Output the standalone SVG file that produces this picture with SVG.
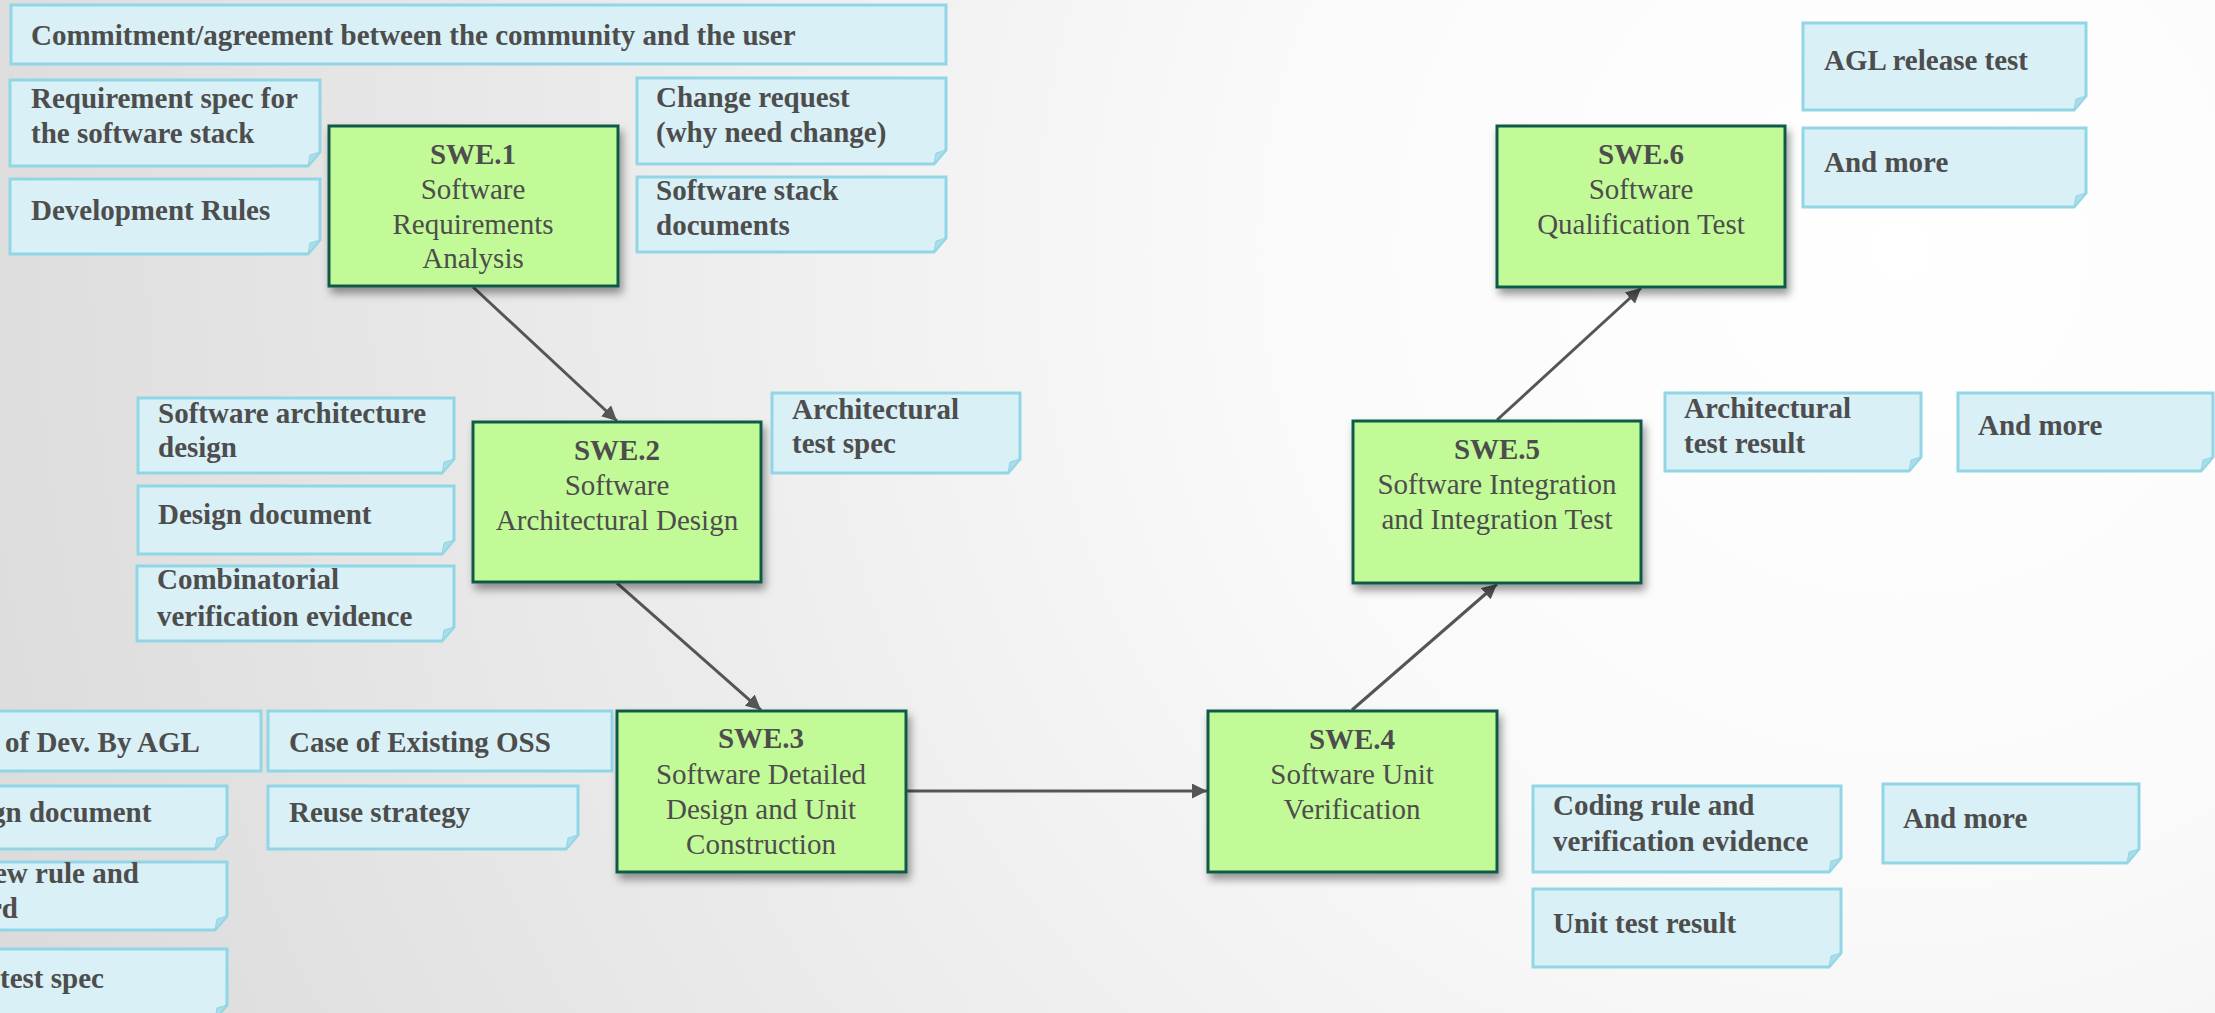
<svg xmlns="http://www.w3.org/2000/svg" width="2215" height="1013" viewBox="0 0 2215 1013">
<defs>
<radialGradient id="bg" cx="1900" cy="250" r="2100" gradientUnits="userSpaceOnUse">
<stop offset="0" stop-color="#ffffff"/>
<stop offset="0.3" stop-color="#fafafa"/>
<stop offset="1" stop-color="#d9d9d9"/>
</radialGradient>
<filter id="sh" x="-10%" y="-10%" width="130%" height="140%">
<feDropShadow dx="3" dy="6" stdDeviation="4" flood-color="#000" flood-opacity="0.4"/>
</filter>
<marker id="arr" viewBox="0 0 10 10" refX="10" refY="5" markerWidth="5" markerHeight="5" orient="auto" markerUnits="strokeWidth">
<path d="M0,0 L10,5 L0,10 Z" fill="#555555"/>
</marker>
</defs>
<style>
.box{fill:#c3fa98;stroke:#0e5a4a;stroke-width:3}
.note{fill:#d9f0f6;stroke:#92d6e5;stroke-width:3}
.fold{fill:#a9dde9;stroke:#92d6e5;stroke-width:1}
.t{font-family:"Liberation Serif","Times New Roman",serif;font-size:29px;fill:#4d4d4d}
.nt{font-family:"Liberation Serif","Times New Roman",serif;font-size:29px;font-weight:bold;fill:#4d4d4d}
.b{font-weight:bold}
.c{stroke:#555555;stroke-width:3;fill:none}
</style>
<rect x="0" y="0" width="2215" height="1013" fill="url(#bg)"/>

<g id="connectors">
<line class="c" x1="473" y1="287" x2="617" y2="421" marker-end="url(#arr)"/>
<line class="c" x1="617" y1="583" x2="761" y2="710" marker-end="url(#arr)"/>
<line class="c" x1="907" y1="791" x2="1207" y2="791" marker-end="url(#arr)"/>
<line class="c" x1="1352" y1="710" x2="1497" y2="584" marker-end="url(#arr)"/>
<line class="c" x1="1497" y1="420" x2="1641" y2="288" marker-end="url(#arr)"/>
</g>

<g id="swe1">
<rect class="box" filter="url(#sh)" x="329" y="126" width="289" height="160"/>
<text class="t" text-anchor="middle"><tspan class="b" x="473" y="164">SWE.1</tspan><tspan x="473" y="199">Software</tspan><tspan x="473" y="234">Requirements</tspan><tspan x="473" y="268">Analysis</tspan></text>
</g>
<g id="swe2">
<rect class="box" filter="url(#sh)" x="473" y="422" width="288" height="160"/>
<text class="t" text-anchor="middle"><tspan class="b" x="617" y="460">SWE.2</tspan><tspan x="617" y="495">Software</tspan><tspan x="617" y="530">Architectural Design</tspan></text>
</g>
<g id="swe3">
<rect class="box" filter="url(#sh)" x="617" y="711" width="289" height="161"/>
<text class="t" text-anchor="middle"><tspan class="b" x="761" y="748">SWE.3</tspan><tspan x="761" y="784">Software Detailed</tspan><tspan x="761" y="819">Design and Unit</tspan><tspan x="761" y="854">Construction</tspan></text>
</g>
<g id="swe4">
<rect class="box" filter="url(#sh)" x="1208" y="711" width="289" height="161"/>
<text class="t" text-anchor="middle"><tspan class="b" x="1352" y="749">SWE.4</tspan><tspan x="1352" y="784">Software Unit</tspan><tspan x="1352" y="819">Verification</tspan></text>
</g>
<g id="swe5">
<rect class="box" filter="url(#sh)" x="1353" y="421" width="288" height="162"/>
<text class="t" text-anchor="middle"><tspan class="b" x="1497" y="459">SWE.5</tspan><tspan x="1497" y="494">Software Integration</tspan><tspan x="1497" y="529">and Integration Test</tspan></text>
</g>
<g id="swe6">
<rect class="box" filter="url(#sh)" x="1497" y="126" width="288" height="161"/>
<text class="t" text-anchor="middle"><tspan class="b" x="1641" y="164">SWE.6</tspan><tspan x="1641" y="199">Software</tspan><tspan x="1641" y="234">Qualification Test</tspan></text>
</g>

<g id="n-commitment">
<rect class="note" x="11" y="5" width="935" height="59"/>
<text class="nt" x="31" y="45">Commitment/agreement between the community and the user</text>
</g>
<g id="n-reqspec">
<path class="note" d="M10,80 H320 V152 L308,166 H10 Z"/>
<path class="fold" d="M320,152 L308,166 L310,155 Z"/>
<text class="nt"><tspan x="31" y="108">Requirement spec for</tspan><tspan x="31" y="143">the software stack</tspan></text>
</g>
<g id="n-devrules">
<path class="note" d="M10,179 H320 V240 L308,254 H10 Z"/>
<path class="fold" d="M320,240 L308,254 L310,243 Z"/>
<text class="nt" x="31" y="220">Development Rules</text>
</g>
<g id="n-change">
<path class="note" d="M637,78 H946 V150 L934,164 H637 Z"/>
<path class="fold" d="M946,150 L934,164 L936,153 Z"/>
<text class="nt"><tspan x="656" y="107">Change request</tspan><tspan x="656" y="142">(why need change)</tspan></text>
</g>
<g id="n-stackdocs">
<path class="note" d="M637,177 H946 V238 L934,252 H637 Z"/>
<path class="fold" d="M946,238 L934,252 L936,241 Z"/>
<text class="nt"><tspan x="656" y="200">Software stack</tspan><tspan x="656" y="235">documents</tspan></text>
</g>
<g id="n-archdesign">
<path class="note" d="M138,398 H454 V459 L442,473 H138 Z"/>
<path class="fold" d="M454,459 L442,473 L444,462 Z"/>
<text class="nt"><tspan x="158" y="423">Software architecture</tspan><tspan x="158" y="457">design</tspan></text>
</g>
<g id="n-designdoc">
<path class="note" d="M138,486 H454 V540 L442,554 H138 Z"/>
<path class="fold" d="M454,540 L442,554 L444,543 Z"/>
<text class="nt" x="158" y="524">Design document</text>
</g>
<g id="n-combinatorial">
<path class="note" d="M137,566 H454 V627 L442,641 H137 Z"/>
<path class="fold" d="M454,627 L442,641 L444,630 Z"/>
<text class="nt"><tspan x="157" y="589">Combinatorial</tspan><tspan x="157" y="626">verification evidence</tspan></text>
</g>
<g id="n-archtestspec">
<path class="note" d="M772,393 H1020 V459 L1008,473 H772 Z"/>
<path class="fold" d="M1020,459 L1008,473 L1010,462 Z"/>
<text class="nt"><tspan x="792" y="419">Architectural</tspan><tspan x="792" y="453">test spec</tspan></text>
</g>
<g id="n-devagl">
<rect class="note" x="-10" y="711" width="271" height="60"/>
<text class="nt" x="5" y="752">of Dev. By AGL</text>
</g>
<g id="n-existingoss">
<rect class="note" x="268" y="711" width="344" height="60"/>
<text class="nt" x="289" y="752">Case of Existing OSS</text>
</g>
<g id="n-designdoc2">
<path class="note" d="M-10,786 H227 V835 L215,849 H-10 Z"/>
<path class="fold" d="M227,835 L215,849 L217,838 Z"/>
<text class="nt" x="-9" y="822">gn document</text>
</g>
<g id="n-reuse">
<path class="note" d="M268,786 H578 V835 L566,849 H268 Z"/>
<path class="fold" d="M578,835 L566,849 L568,838 Z"/>
<text class="nt" x="289" y="822">Reuse strategy</text>
</g>
<g id="n-reviewrule">
<path class="note" d="M-10,862 H227 V916 L215,930 H-10 Z"/>
<path class="fold" d="M227,916 L215,930 L217,919 Z"/>
<text class="nt"><tspan x="-6" y="883">ew rule and</tspan><tspan x="-11" y="918">rd</tspan></text>
</g>
<g id="n-testspec">
<path class="note" d="M-10,949 H227 V1005 L215,1019 H-10 Z"/>
<path class="fold" d="M227,1005 L215,1019 L217,1008 Z"/>
<text class="nt" x="0" y="988">test spec</text>
</g>
<g id="n-codingrule">
<path class="note" d="M1533,786 H1841 V858 L1829,872 H1533 Z"/>
<path class="fold" d="M1841,858 L1829,872 L1831,861 Z"/>
<text class="nt"><tspan x="1553" y="815">Coding rule and</tspan><tspan x="1553" y="851">verification evidence</tspan></text>
</g>
<g id="n-unittest">
<path class="note" d="M1533,889 H1841 V953 L1829,967 H1533 Z"/>
<path class="fold" d="M1841,953 L1829,967 L1831,956 Z"/>
<text class="nt" x="1553" y="933">Unit test result</text>
</g>
<g id="n-more4">
<path class="note" d="M1883,784 H2139 V849 L2127,863 H1883 Z"/>
<path class="fold" d="M2139,849 L2127,863 L2129,852 Z"/>
<text class="nt" x="1903" y="828">And more</text>
</g>
<g id="n-archtestresult">
<path class="note" d="M1665,393 H1921 V457 L1909,471 H1665 Z"/>
<path class="fold" d="M1921,457 L1909,471 L1911,460 Z"/>
<text class="nt"><tspan x="1684" y="418">Architectural</tspan><tspan x="1684" y="453">test result</tspan></text>
</g>
<g id="n-more5">
<path class="note" d="M1958,393 H2213 V457 L2201,471 H1958 Z"/>
<path class="fold" d="M2213,457 L2201,471 L2203,460 Z"/>
<text class="nt" x="1978" y="435">And more</text>
</g>
<g id="n-agltest">
<path class="note" d="M1803,23 H2086 V96 L2074,110 H1803 Z"/>
<path class="fold" d="M2086,96 L2074,110 L2076,99 Z"/>
<text class="nt" x="1824" y="70">AGL release test</text>
</g>
<g id="n-more6">
<path class="note" d="M1803,128 H2086 V193 L2074,207 H1803 Z"/>
<path class="fold" d="M2086,193 L2074,207 L2076,196 Z"/>
<text class="nt" x="1824" y="172">And more</text>
</g>
</svg>
